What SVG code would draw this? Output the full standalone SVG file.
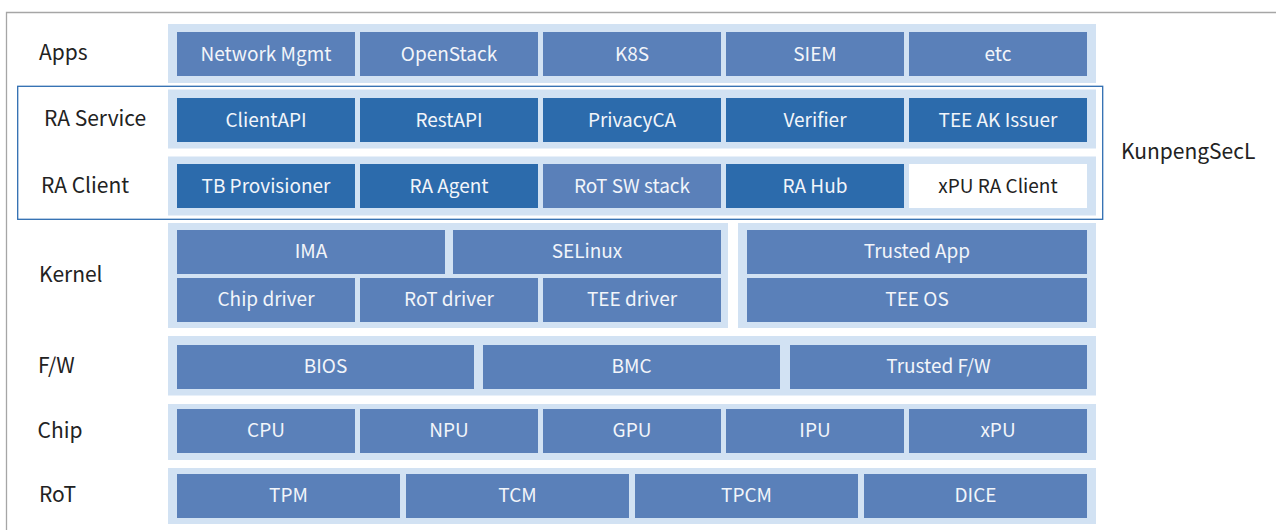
<svg xmlns="http://www.w3.org/2000/svg" width="1276" height="530" viewBox="0 0 1276 530">
<style>
.band{fill:#d2e2f3}
.mid{fill:#5a80b9}
.dark{fill:#2c6bac}
.wht{fill:#ffffff}
.bt{font-family:"Noto Sans CJK SC","Noto Sans",sans-serif;font-size:19px;fill:#f2f5fa;text-anchor:middle}
.btd{font-family:"Noto Sans CJK SC","Noto Sans",sans-serif;font-size:19px;fill:#222;text-anchor:middle}
.lb{font-family:"Noto Sans CJK SC","Noto Sans",sans-serif;font-size:21px;fill:#222}
</style>
<rect width="1276" height="530" fill="#fff"/>
<path d="M6.5 530V12.5H1276" fill="none" stroke="#a6a6a6" stroke-width="1.3"/>
<g id="bands">
<rect class="band" x="168" y="24" width="928" height="59"/>
<rect class="band" x="168" y="89.5" width="928" height="59"/>
<rect class="band" x="168" y="156.5" width="928" height="59"/>
<rect class="band" x="168" y="223" width="560" height="105"/>
<rect class="band" x="738" y="223" width="358" height="105"/>
<rect class="band" x="168" y="336" width="928" height="59.5"/>
<rect class="band" x="168" y="404" width="928" height="56"/>
<rect class="band" x="168" y="468" width="928" height="56"/>
</g>
<rect id="ra-frame" x="17.7" y="86.3" width="1085" height="133" fill="none" stroke="#2e6db1" stroke-width="1.3"/>
<g id="labels">
<text class="lb" x="39" y="60">Apps</text>
<text class="lb" x="44" y="126">RA Service</text>
<text class="lb" x="41" y="192.5">RA Client</text>
<text class="lb" x="39" y="281.5">Kernel</text>
<text class="lb" x="38" y="373">F/W</text>
<text class="lb" x="37.5" y="438">Chip</text>
<text class="lb" x="39" y="502">RoT</text>
<text class="lb" x="1121" y="159.3">KunpengSecL</text>
</g>
<g id="apps">
<g id="n-netmgmt"><rect class="mid" x="177" y="32" width="178" height="44"/><text class="bt" x="266" y="60.5">Network Mgmt</text></g>
<g id="n-openstack"><rect class="mid" x="360" y="32" width="178" height="44"/><text class="bt" x="449" y="60.5">OpenStack</text></g>
<g id="n-k8s"><rect class="mid" x="543" y="32" width="178" height="44"/><text class="bt" x="632" y="60.5">K8S</text></g>
<g id="n-siem"><rect class="mid" x="726" y="32" width="178" height="44"/><text class="bt" x="815" y="60.5">SIEM</text></g>
<g id="n-etc"><rect class="mid" x="909" y="32" width="178" height="44"/><text class="bt" x="998" y="60.5">etc</text></g>
</g>
<g id="ra-service">
<g id="n-clientapi"><rect class="dark" x="177" y="98" width="178" height="44"/><text class="bt" x="266" y="126.5">ClientAPI</text></g>
<g id="n-restapi"><rect class="dark" x="360" y="98" width="178" height="44"/><text class="bt" x="449" y="126.5">RestAPI</text></g>
<g id="n-privacyca"><rect class="dark" x="543" y="98" width="178" height="44"/><text class="bt" x="632" y="126.5">PrivacyCA</text></g>
<g id="n-verifier"><rect class="dark" x="726" y="98" width="178" height="44"/><text class="bt" x="815" y="126.5">Verifier</text></g>
<g id="n-teeak"><rect class="dark" x="909" y="98" width="178" height="44"/><text class="bt" x="998" y="126.5">TEE AK Issuer</text></g>
</g>
<g id="ra-client">
<g id="n-tbprov"><rect class="dark" x="177" y="164" width="178" height="44"/><text class="bt" x="266" y="192.5">TB Provisioner</text></g>
<g id="n-raagent"><rect class="dark" x="360" y="164" width="178" height="44"/><text class="bt" x="449" y="192.5">RA Agent</text></g>
<g id="n-rotsw"><rect class="mid" x="543" y="164" width="178" height="44"/><text class="bt" x="632" y="192.5">RoT SW stack</text></g>
<g id="n-rahub"><rect class="dark" x="726" y="164" width="178" height="44"/><text class="bt" x="815" y="192.5">RA Hub</text></g>
<g id="n-xpura"><rect class="wht" x="909" y="164" width="178" height="44"/><text class="btd" x="998" y="192.5">xPU RA Client</text></g>
</g>
<g id="kernel">
<g id="n-ima"><rect class="mid" x="177" y="230" width="268" height="44"/><text class="bt" x="311" y="258">IMA</text></g>
<g id="n-selinux"><rect class="mid" x="453" y="230" width="268" height="44"/><text class="bt" x="587" y="258">SELinux</text></g>
<g id="n-chipdrv"><rect class="mid" x="177" y="278" width="178" height="44"/><text class="bt" x="266" y="306">Chip driver</text></g>
<g id="n-rotdrv"><rect class="mid" x="360" y="278" width="178" height="44"/><text class="bt" x="449" y="306">RoT driver</text></g>
<g id="n-teedrv"><rect class="mid" x="543" y="278" width="178" height="44"/><text class="bt" x="632" y="306">TEE driver</text></g>
<g id="n-tapp"><rect class="mid" x="747" y="230" width="340" height="44"/><text class="bt" x="917" y="258">Trusted App</text></g>
<g id="n-teeos"><rect class="mid" x="747" y="278" width="340" height="44"/><text class="bt" x="917" y="306">TEE OS</text></g>
</g>
<g id="fw">
<g id="n-bios"><rect class="mid" x="177" y="345" width="297" height="44"/><text class="bt" x="325.5" y="373">BIOS</text></g>
<g id="n-bmc"><rect class="mid" x="483" y="345" width="297" height="44"/><text class="bt" x="631.5" y="373">BMC</text></g>
<g id="n-tfw"><rect class="mid" x="790" y="345" width="297" height="44"/><text class="bt" x="938.5" y="373">Trusted F/W</text></g>
</g>
<g id="chip">
<g id="n-cpu"><rect class="mid" x="177" y="409" width="178" height="44"/><text class="bt" x="266" y="437">CPU</text></g>
<g id="n-npu"><rect class="mid" x="360" y="409" width="178" height="44"/><text class="bt" x="449" y="437">NPU</text></g>
<g id="n-gpu"><rect class="mid" x="543" y="409" width="178" height="44"/><text class="bt" x="632" y="437">GPU</text></g>
<g id="n-ipu"><rect class="mid" x="726" y="409" width="178" height="44"/><text class="bt" x="815" y="437">IPU</text></g>
<g id="n-xpu"><rect class="mid" x="909" y="409" width="178" height="44"/><text class="bt" x="998" y="437">xPU</text></g>
</g>
<g id="rot">
<g id="n-tpm"><rect class="mid" x="177" y="474" width="223" height="44"/><text class="bt" x="288.5" y="502">TPM</text></g>
<g id="n-tcm"><rect class="mid" x="406" y="474" width="223" height="44"/><text class="bt" x="517.5" y="502">TCM</text></g>
<g id="n-tpcm"><rect class="mid" x="635" y="474" width="223" height="44"/><text class="bt" x="746.5" y="502">TPCM</text></g>
<g id="n-dice"><rect class="mid" x="864" y="474" width="223" height="44"/><text class="bt" x="975.5" y="502">DICE</text></g>
</g>
<g id="connectors"/>
</svg>
